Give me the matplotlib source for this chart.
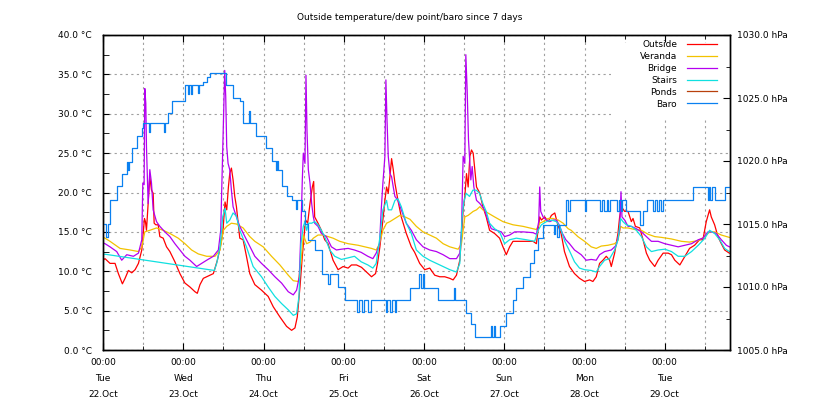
import matplotlib
matplotlib.use("Agg")
import matplotlib.pyplot as plt
from matplotlib.patches import Rectangle
from matplotlib.ticker import MultipleLocator, FixedLocator

# hours since Tue 22.Oct 00:00
out_h = [0, 0.6, 2.1, 3.6, 4.6, 5.8, 6.6, 7.6, 8.6, 9.6, 10.6, 11.6, 12.4, 12.7, 13.0, 13.5, 14.0, 14.5, 15.0, 15.3,
         15.8, 16.5, 17.0, 18.0, 19.0, 20.0, 21.5, 23.0, 24.5, 26.0, 27.5, 28.2, 29.0, 30.0, 31.5, 33.0, 34.2, 35.0,
         35.8, 36.5, 37.0, 37.5, 37.9, 38.4, 38.9, 39.4, 39.9, 40.9, 41.9, 42.9, 43.9, 45.4, 47.4, 49.4, 50.9, 52.9,
         54.9, 56.4, 57.4, 58.1, 58.9, 59.6, 60.2, 60.6, 61.2, 61.9, 62.6, 63.0, 63.3, 64.3, 65.3, 66.3, 67.3, 68.8,
         70.3, 71.8, 73.3, 74.3, 75.8, 77.3, 78.8, 80.3, 81.5, 82.1, 82.8, 83.6, 84.3, 84.8, 85.3, 85.8, 86.3, 86.8,
         87.3, 88.2, 89.2, 90.7, 92.2, 93.2, 94.7, 96.2, 97.7, 99.2, 100.7, 102.2, 103.7, 104.7, 105.7, 106.7, 107.2,
         107.7, 108.2, 108.7, 109.2, 109.7, 110.2, 110.7, 111.2, 111.7, 112.7, 113.6, 114.6, 115.6, 117.1, 118.6,
         119.6, 120.6, 121.6, 122.6, 124.6, 126.6, 128.6, 129.6, 130.1, 130.6, 131.1, 132.1, 133.1, 134.1, 135.1,
         136.0, 137.0, 138.0, 139.5, 141.0, 142.5, 144.0, 145.5, 146.5, 147.5, 148.5, 149.5, 150.5, 151.5, 152.0,
         153.0, 154.0, 154.5, 155.0, 156.0, 157.0, 158.0, 158.5, 159.2, 160.5, 161.5, 162.5, 163.5, 165.0, 166.0,
         167.5, 169.0, 170.0, 171.0, 172.5, 174.0, 175.4, 176.9, 178.4, 179.4, 180.4, 181.4, 181.9, 182.9, 183.9,
         184.9, 185.9, 187.3]
out_t = [11.4, 11.6, 11.0, 11.0, 9.7, 8.4, 9.1, 10.1, 9.8, 10.2, 11.0, 12.7, 16.7, 16.3, 15.2, 18.6, 22.0, 20.3, 19.9, 16.1,
         15.9, 15.9, 14.4, 14.2, 13.1, 12.5, 11.2, 9.7, 8.5, 8.0, 7.4, 7.2, 8.3, 9.1, 9.4, 9.7, 11.4, 12.9,
         14.8, 18.8, 17.8, 20.7, 22.4, 23.1, 21.6, 19.5, 18.2, 14.2, 14.0, 11.9, 9.7, 8.3, 7.6, 6.8, 5.5, 4.2,
         3.0, 2.5, 2.8, 4.2, 8.0, 11.9, 14.8, 16.5, 16.1, 18.6, 20.7, 21.4, 16.9, 16.1, 15.2, 14.0, 13.5, 11.4,
         10.2, 10.6, 10.4, 10.8, 10.8, 10.5, 9.9, 9.3, 9.7, 11.0, 13.1, 16.1, 19.0, 20.7, 19.9, 22.0, 24.3, 22.9,
         21.2, 19.0, 16.9, 14.8, 13.1, 12.4, 11.0, 10.2, 10.4, 9.5, 9.3, 9.3, 9.1, 8.9, 9.5, 11.4, 14.4,
         17.8, 19.5, 22.4, 20.7, 24.6, 25.4, 25.0, 22.9, 20.7, 19.9, 18.2, 16.9, 15.2, 14.8, 14.2,
         13.1, 12.1, 13.1, 13.8, 13.8, 13.8, 13.8, 13.5, 15.2, 16.9, 16.5, 16.9, 16.3, 17.1, 17.4,
         15.9, 14.8, 12.5, 10.6, 9.7, 9.1, 8.7, 8.9, 8.7, 9.3, 11.0, 11.4, 11.9, 11.4, 10.6,
         12.3, 14.8, 16.9, 18.2, 17.6, 17.6, 16.3, 16.7, 15.7, 15.5, 14.0, 12.3, 11.4, 10.6, 11.4,
         12.3, 12.3, 12.1, 11.4, 10.8, 11.9, 12.9, 13.3, 14.0, 14.0, 16.3, 17.8, 16.9, 15.9, 14.4,
         13.5, 12.7, 12.3]

ver_h = [0, 0.6, 2.1, 5.1, 8.1, 10.6, 11.6, 12.5, 14.0, 16.0, 18.0, 20.0, 22.5, 24.5, 26.5, 28.5, 31.0, 33.5, 35.0,
         36.0, 37.0, 38.4, 39.9, 41.9, 43.9, 45.4, 47.9, 50.4, 52.9, 55.4, 56.9, 58.4, 59.2, 59.9, 60.9, 61.9, 62.9,
         64.3, 65.8, 67.3, 68.8, 70.8, 73.3, 76.3, 78.3, 80.3, 81.7, 82.7, 83.7, 84.8, 85.8, 87.3, 88.8, 90.3, 91.8,
         93.7, 95.7, 97.7, 99.7, 101.7, 103.7, 106.2, 107.2, 108.2, 109.2, 110.7, 111.7, 112.7, 113.6, 115.1, 117.1,
         119.6, 122.6, 125.6, 128.6, 129.6, 130.6, 131.6, 133.1, 134.6, 136.1, 137.6, 139.1, 140.0, 142.0, 144.0,
         146.0, 147.5, 149.0, 151.0, 153.0, 154.0, 154.8, 155.5, 157.0, 159.0, 161.0, 163.0, 165.0, 167.0, 170.0,
         173.0, 175.4, 178.0, 180.0, 181.4, 182.9, 184.9, 187.3]
ver_t = [14.3, 14.2, 13.8, 12.9, 12.7, 12.5, 13.1, 15.0, 15.2, 15.5, 15.2, 14.8, 14.2, 13.5, 12.7, 12.2, 11.9, 11.9, 12.7,
         15.2, 15.7, 16.1, 16.0, 15.5, 14.4, 13.8, 13.1, 11.9, 10.8, 9.5, 8.8, 8.7, 11.0, 14.6, 13.5, 13.7, 14.2,
         14.6, 14.6, 14.4, 14.2, 13.8, 13.5, 13.3, 13.1, 12.9, 12.7, 13.5, 15.2, 16.1, 16.3, 16.7, 17.1, 16.9, 16.6,
         15.7, 15.0, 14.6, 14.2, 13.5, 13.1, 12.8, 13.5, 16.9, 17.1, 17.6, 17.8, 18.2, 17.8, 17.4, 16.9,
         16.3, 15.9, 15.7, 15.4, 15.3, 16.1, 16.3, 16.7, 16.7, 16.5, 16.1, 15.4, 15.2, 14.4, 13.8,
         13.1, 12.9, 13.2, 13.3, 13.5, 13.9, 15.7, 15.5, 15.5, 15.3, 15.2, 14.7, 14.4, 14.3, 14.1,
         13.8, 13.7, 13.9, 14.4, 15.0, 15.0, 14.6, 14.3]

bri_h = [0, 0.6, 2.1, 4.1, 5.6, 7.1, 9.1, 10.6, 11.6, 11.9, 12.3, 12.5, 12.8, 13.0, 13.5, 14.0, 14.5, 15.0, 16.0, 17.0,
         18.5, 20.0, 21.5, 23.0, 24.5, 26.0, 28.0, 29.5, 31.0, 33.0, 34.5, 35.2, 35.7, 36.0, 36.4, 36.7, 37.0, 37.4,
         37.9, 38.4, 38.9, 39.9, 40.9, 42.9, 45.4, 47.4, 49.4, 51.4, 53.4, 55.4, 56.9, 57.9, 58.7, 59.2, 59.6, 59.9,
         60.4, 60.7, 61.0, 61.4, 61.9, 62.4, 62.9, 63.3, 64.3, 65.3, 66.8, 68.3, 69.8, 71.3, 73.3, 75.2, 77.2, 79.2,
         80.7, 81.7, 82.7, 83.2, 83.7, 84.3, 84.6, 84.9, 85.3, 85.8, 86.3, 86.8, 87.3, 88.2, 89.2, 90.7, 92.2, 93.7,
         95.7, 97.7, 99.7, 101.7, 103.7, 105.7, 106.7, 107.2, 107.7, 108.2, 108.5, 108.9, 109.3, 109.7, 110.0,
         110.4, 110.9, 111.7, 112.7, 114.1, 115.1, 116.1, 117.6, 119.1, 120.1, 121.6, 123.1, 125.6, 128.6, 129.6,
         130.3, 130.6, 130.9, 131.6, 132.6, 133.6, 134.6, 135.6, 136.4, 137.4, 138.4, 139.5, 141.0, 143.0, 144.5,
         146.0, 147.5, 148.5, 150.0, 152.0, 153.5, 154.5, 154.9, 155.2, 156.0, 157.0, 158.0, 159.5, 161.0, 162.5,
         164.0, 166.0, 168.0, 170.0, 172.0, 174.0, 176.0, 178.0, 179.4, 180.9, 181.9, 183.4, 184.9, 186.4, 187.3]
bri_t = [13.6, 13.5, 13.1, 12.5, 11.4, 12.1, 11.9, 12.3, 14.0, 21.2, 21.0, 33.2, 31.3, 25.8, 18.6, 22.9, 21.2, 17.8, 16.3, 15.7,
         15.0, 14.4, 13.5, 12.7, 11.9, 11.4, 10.6, 11.0, 11.4, 11.9, 12.7, 15.2, 23.7, 28.4, 35.5, 32.2, 25.8, 23.7,
         22.9, 20.3, 18.2, 16.9, 15.7, 14.0, 11.9, 11.0, 10.2, 9.3, 8.5, 7.4, 7.0, 7.6, 9.3, 15.2, 21.6, 25.0,
         23.7, 34.9, 27.9, 22.9, 21.2, 18.6, 16.9, 16.1, 15.7, 14.8, 14.4, 13.1, 12.7, 12.8, 12.9, 12.7, 12.4, 11.9,
         11.6, 12.3, 13.5, 17.8, 21.2, 24.6, 34.3, 29.6, 24.6, 22.4, 22.0, 20.7, 19.5, 19.0, 17.8, 16.1, 15.2, 14.0,
         13.1, 12.7, 12.5, 12.1, 11.6, 11.6, 12.3, 15.2, 24.6, 23.7, 37.5, 33.0, 26.7, 23.7, 21.6,
         23.3, 20.7, 19.0, 18.6, 17.8, 16.5, 15.4, 15.2, 15.0, 14.4, 14.6, 15.0, 15.0, 14.9, 14.7,
         16.3, 20.7, 17.6, 16.9, 16.5, 16.3, 16.5, 16.5, 15.9, 14.8, 14.0, 13.5, 12.7, 12.1, 11.4,
         11.5, 11.4, 12.1, 12.5, 12.7, 13.3, 15.2, 20.1, 16.9, 16.5, 15.7, 15.7, 15.4, 15.0, 14.4,
         13.8, 13.8, 13.5, 13.3, 13.1, 13.3, 13.5, 14.0, 14.2, 15.0, 15.0, 14.8, 14.0, 13.3, 13.1]

sta_h = [0, 33.3, 34.0, 35.0, 35.8, 36.5, 37.0, 37.9, 38.9, 39.9, 40.9, 42.9, 44.9, 47.4, 49.4, 51.4, 53.4, 55.4, 56.9,
         57.9, 58.6, 59.2, 59.9, 60.4, 60.9, 61.4, 62.4, 63.3, 64.3, 65.3, 66.3, 67.8, 69.3, 71.3, 73.3, 75.2, 77.2,
         79.2, 80.7, 81.7, 82.7, 83.7, 84.8, 85.3, 86.3, 87.3, 88.2, 89.2, 90.7, 92.2, 93.7, 95.7, 97.7, 99.7, 101.7,
         103.7, 105.7, 106.7, 107.4, 107.9, 108.6, 109.6, 110.6, 111.6, 112.6, 113.6, 114.6, 115.6, 117.1, 118.6,
         120.1, 121.6, 123.6, 126.6, 129.1, 130.1, 131.1, 132.6, 134.1, 135.6, 136.6, 138.1, 139.6, 141.0, 142.5,
         144.0, 146.0, 147.5, 148.5, 150.0, 151.5, 153.0, 154.0, 154.8, 155.5, 156.5, 158.0, 159.5, 161.0, 162.5,
         164.0, 166.0, 168.0, 170.0, 172.0, 174.0, 176.0, 178.0, 180.0, 181.4, 182.9, 184.4, 185.9, 187.3]
sta_t = [12.2, 10.1, 11.0, 13.1, 16.9, 18.0, 16.1, 16.5, 17.4, 17.0, 15.2, 13.1, 10.6, 9.3, 8.0, 6.8, 5.9, 5.1, 4.4,
         4.6, 6.8, 13.5, 15.7, 16.3, 15.2, 16.1, 16.1, 16.3, 15.9, 15.2, 14.4, 12.7, 11.9, 11.5, 11.7, 11.9, 11.2,
         10.8, 10.4, 11.0, 14.0, 17.8, 19.0, 17.8, 17.8, 19.0, 19.2, 18.2, 16.1, 14.8, 12.7, 11.9, 11.4, 11.0, 10.6,
         10.2, 9.9, 11.0, 16.9, 18.8, 19.9, 19.5, 20.3, 20.3, 19.9, 18.6, 17.6, 16.1, 15.4, 15.0,
         13.5, 14.0, 14.2, 14.0, 13.8, 15.2, 15.9, 16.3, 16.5, 16.3, 15.7, 13.8, 12.5, 11.2, 10.4,
         10.2, 10.1, 9.9, 10.6, 11.4, 11.6, 12.7, 14.0, 16.7, 16.3, 15.9, 15.7, 15.2, 14.4, 13.1,
         12.5, 12.7, 12.8, 12.5, 11.9, 11.9, 12.5, 13.3, 14.2, 15.2, 14.8, 14.0, 12.9, 12.5]

baro_h = [0.0, 0.8, 1.5, 2.1, 4.1, 5.6, 7.1, 7.6, 7.9, 8.6, 10.1, 11.6, 12.0, 13.9, 14.2, 18.3, 18.6, 19.5, 20.5, 24.5,
          25.4, 25.8, 26.4, 26.7, 28.4, 28.7, 30.0, 31.0, 32.0, 36.8, 39.0, 41.0, 42.0, 43.8, 44.1, 45.8, 48.8, 50.4,
          51.6, 52.0, 52.4, 53.4, 55.0, 56.4, 57.6, 58.0, 59.4, 60.4, 61.4, 63.4, 65.4, 67.4, 67.8, 70.3, 72.3, 76.0,
          76.7, 77.5, 78.0, 79.3, 80.0, 84.5, 85.0, 85.8, 86.3, 87.2, 87.6, 91.7, 94.5, 95.0, 95.6, 96.0, 100.2,
          105.0, 105.4, 108.5, 110.0, 111.1, 116.0, 116.4, 117.0, 117.3, 118.6, 120.6, 122.6, 123.6, 125.6, 127.6,
          129.0, 130.0, 131.6, 134.8, 135.2, 135.8, 136.3, 138.4, 139.0, 139.6, 144.0, 144.4, 148.5, 149.2, 149.8,
          150.6, 151.0, 151.5, 153.8, 154.3, 154.8, 155.3, 156.5, 160.5, 161.6, 162.6, 164.5, 165.0, 165.8, 166.3,
          167.0, 167.5, 176.3, 180.8, 181.2, 181.6, 182.2, 183.0, 185.9, 187.5]
baro_p = [1015.0, 1014.0, 1015.0, 1016.9, 1018.0, 1019.0, 1019.9, 1019.3, 1019.9, 1021.0, 1022.0, 1022.6, 1023.0, 1022.3,
          1023.0, 1022.3, 1023.0, 1023.8, 1024.8, 1026.0,
          1025.3, 1026.0, 1025.3, 1026.0, 1025.4, 1026.0, 1026.3, 1026.7, 1027.0, 1026.0, 1025.0, 1024.8, 1023.0,
          1024.0, 1023.0, 1022.0, 1021.0, 1020.0,
          1019.3, 1020.0, 1019.3, 1018.0, 1017.2, 1016.9, 1016.2, 1016.9, 1016.0, 1015.0, 1013.7, 1012.9, 1011.0,
          1010.2, 1011.0, 1010.0, 1009.0, 1008.0,
          1009.0, 1008.0, 1009.0, 1008.0, 1009.0, 1008.0, 1009.0, 1008.0, 1009.0, 1008.0, 1009.0, 1009.9, 1011.0,
          1009.9, 1011.0, 1009.9, 1009.0,
          1009.9, 1009.0, 1007.9, 1007.1, 1006.0, 1006.9, 1006.0, 1006.9, 1006.0, 1006.9, 1007.9, 1009.0, 1009.9,
          1010.8, 1011.9,
          1012.9, 1013.9, 1014.9, 1014.2, 1014.9, 1014.0, 1014.9, 1016.9, 1016.0, 1016.9, 1016.0, 1016.9, 1016.0,
          1016.9, 1016.0,
          1016.9, 1016.0, 1016.9, 1016.0, 1016.9, 1016.0, 1016.9, 1016.0, 1014.9, 1016.0, 1016.9, 1016.0, 1016.9,
          1016.0, 1016.9,
          1016.0, 1016.9, 1017.9, 1016.9, 1017.9, 1016.9, 1017.9, 1016.9, 1017.9, 1017.9]

day_ticks = [0, 24, 48, 72, 96, 120, 144, 168]
day_labels = ["00:00\nTue\n22.Oct", "00:00\nWed\n23.Oct", "00:00\nThu\n24.Oct", "00:00\nFri\n25.Oct",
              "00:00\nSat\n26.Oct", "00:00\nSun\n27.Oct", "00:00\nMon\n28.Oct", "00:00\nTue\n29.Oct"]

plt.rcParams['font.family'] = ['DejaVu Sans']
fs = 6.5

fig = plt.figure(figsize=(8.2, 4.0), dpi=100)
ax = fig.add_axes([103 / 820, 50 / 400, 627 / 820, 315 / 400])
ax2 = ax.twinx()

lw = 0.9
ax.plot(out_h, out_t, color="#ff0000", lw=lw, label="Outside")
ax.plot(ver_h, ver_t, color="#f2c200", lw=lw, label="Veranda")
ax.plot(bri_h, bri_t, color="#b400f0", lw=lw, label="Bridge")
ax.plot(sta_h, sta_t, color="#10e0e0", lw=lw, label="Stairs")
ax.plot([], [], color="#b8400c", lw=lw, label="Ponds")
ax2.plot(baro_h, baro_p, color="#0a80f0", lw=lw, drawstyle="steps-post", label="Baro")

ax.set_xlim(0, 187.5)
ax.set_ylim(0, 40)
ax2.set_ylim(1005, 1030)

ax.xaxis.set_major_locator(FixedLocator(day_ticks))
ax.set_xticklabels(day_labels, fontsize=fs, linespacing=1.95)
ax.xaxis.set_minor_locator(MultipleLocator(12))
ax.yaxis.set_major_locator(MultipleLocator(5))
ax.yaxis.set_minor_locator(MultipleLocator(2.5))
ax.set_yticklabels([f"{v:.1f} °C" for v in ax.get_yticks()], fontsize=fs)
ax2.yaxis.set_major_locator(MultipleLocator(5))
ax2.yaxis.set_minor_locator(MultipleLocator(2.5))
ax2.set_yticklabels([f"{v:.1f} hPa" for v in ax2.get_yticks()], fontsize=fs)

ax.tick_params(axis="x", which="both", direction="in", top=True, pad=6)
ax.tick_params(axis="x", which="major", length=5)
ax.tick_params(axis="x", which="minor", length=3)
ax.tick_params(axis="y", which="both", direction="in", right=False, length=4, pad=8)
ax2.tick_params(axis="y", which="major", direction="in", length=5, pad=5)
ax2.tick_params(axis="y", which="minor", direction="in", length=3)

grid_style = dict(color="#a0a0a0", linestyle=(0, (2, 3)), linewidth=0.8)
ax.grid(True, axis="x", which="both", **grid_style)
ax.grid(True, axis="y", which="major", **grid_style)

# white area behind the key, hides the grid there
ax.add_patch(Rectangle((0.81, 0.73), 0.19, 0.245, transform=ax.transAxes,
                       facecolor="white", edgecolor="none", zorder=1.6))

for a in (ax, ax2):
    for s in a.spines.values():
        s.set_linewidth(1.0)

h1, l1 = ax.get_legend_handles_labels()
h2, l2 = ax2.get_legend_handles_labels()
ax2.legend(h1 + h2, l1 + l2, loc="upper right", bbox_to_anchor=(0.979, 0.985), frameon=False,
           markerfirst=False, fontsize=fs, handlelength=3.3, handletextpad=1.1, labelspacing=0.33,
           borderpad=0, borderaxespad=0)

fig.text(0.5, 1 - 18 / 400, "Outside temperature/dew point/baro since 7 days", ha="center", va="center",
         fontsize=fs)

fig.savefig("out.png", dpi=100)
